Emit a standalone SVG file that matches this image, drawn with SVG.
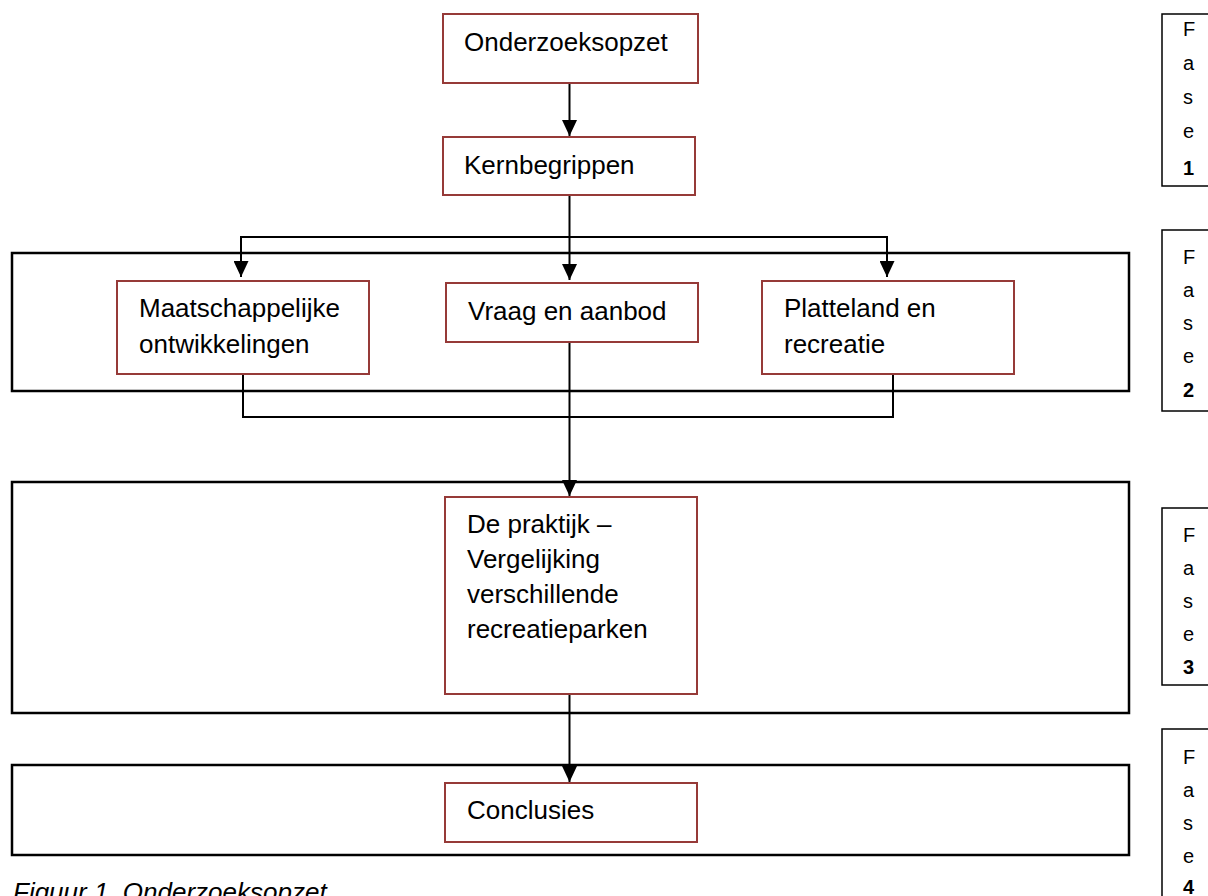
<svg xmlns="http://www.w3.org/2000/svg" width="1208" height="896" viewBox="0 0 1208 896">
  <style>
    .node { fill: #ffffff; stroke: #963a38; stroke-width: 2; }
    .phase { fill: none; stroke: #000000; stroke-width: 2.5; }
    .fase { fill: #ffffff; stroke: #000000; stroke-width: 1.5; }
    .conn { fill: none; stroke: #000000; stroke-width: 2; }
    .label { font-family: "Liberation Sans", Arial, sans-serif; font-size: 26px; fill: #000000; }
    .fl { font-family: "Liberation Sans", Arial, sans-serif; font-size: 20px; fill: #000000; }
    .fb { font-weight: bold; }
    .cap { font-family: "Liberation Sans", Arial, sans-serif; font-size: 26px; font-style: italic; fill: #000000; }
  </style>
  <defs>
    <marker id="ah" markerUnits="userSpaceOnUse" markerWidth="16" markerHeight="15" viewBox="0 0 16 15" refX="16" refY="7.5" orient="auto">
      <path d="M0,0 L16,7.5 L0,15 Z" fill="#000000"/>
    </marker>
  </defs>
  <rect width="1208" height="896" fill="#ffffff"/>

  <g id="phase-containers">
    <rect id="phase2-frame" class="phase" x="12" y="253" width="1117" height="138"/>
    <rect id="phase3-frame" class="phase" x="12" y="482" width="1117" height="231"/>
    <rect id="phase4-frame" class="phase" x="12" y="765" width="1117" height="90"/>
  </g>

  <g id="connectors">
    <path class="conn" d="M569.5,83 V136" marker-end="url(#ah)"/>
    <path class="conn" d="M569.5,195 V280" marker-end="url(#ah)"/>
    <path class="conn" d="M569.5,237 H241 V277" marker-end="url(#ah)"/>
    <path class="conn" d="M569.5,237 H887 V277" marker-end="url(#ah)"/>
    <path class="conn" d="M243,374 V417 H893 V374"/>
    <path class="conn" d="M569.5,342 V496" marker-end="url(#ah)"/>
    <path class="conn" d="M569.5,694 V782" marker-end="url(#ah)"/>
  </g>

  <g id="onderzoeksopzet">
    <rect class="node" x="443" y="14" width="255" height="69"/>
    <text class="label" x="464" y="51">Onderzoeksopzet</text>
  </g>
  <g id="kernbegrippen">
    <rect class="node" x="443" y="137" width="252" height="58"/>
    <text class="label" x="464" y="174">Kernbegrippen</text>
  </g>
  <g id="maatschappelijke">
    <rect class="node" x="117" y="281" width="252" height="93"/>
    <text class="label" x="139" y="317">Maatschappelijke</text>
    <text class="label" x="139" y="353">ontwikkelingen</text>
  </g>
  <g id="vraag-aanbod">
    <rect class="node" x="446" y="283" width="252" height="59"/>
    <text class="label" x="468" y="320">Vraag en aanbod</text>
  </g>
  <g id="platteland">
    <rect class="node" x="762" y="281" width="252" height="93"/>
    <text class="label" x="784" y="317">Platteland en</text>
    <text class="label" x="784" y="353">recreatie</text>
  </g>
  <g id="praktijk">
    <rect class="node" x="445" y="497" width="252" height="197"/>
    <text class="label" x="467" y="533">De praktijk –</text>
    <text class="label" x="467" y="568">Vergelijking</text>
    <text class="label" x="467" y="603">verschillende</text>
    <text class="label" x="467" y="638">recreatieparken</text>
  </g>
  <g id="conclusies">
    <rect class="node" x="445" y="783" width="252" height="59"/>
    <text class="label" x="467" y="819">Conclusies</text>
  </g>

  <g id="fase1">
    <rect class="fase" x="1162" y="14" width="60" height="172"/>
    <text class="fl" x="1183" y="36">F</text>
    <text class="fl" x="1183" y="70">a</text>
    <text class="fl" x="1183" y="104">s</text>
    <text class="fl" x="1183" y="138">e</text>
    <text class="fl fb" x="1183" y="175">1</text>
  </g>
  <g id="fase2">
    <rect class="fase" x="1162" y="230" width="60" height="181"/>
    <text class="fl" x="1183" y="264">F</text>
    <text class="fl" x="1183" y="297">a</text>
    <text class="fl" x="1183" y="330">s</text>
    <text class="fl" x="1183" y="363">e</text>
    <text class="fl fb" x="1183" y="397">2</text>
  </g>
  <g id="fase3">
    <rect class="fase" x="1162" y="508" width="60" height="177"/>
    <text class="fl" x="1183" y="542">F</text>
    <text class="fl" x="1183" y="575">a</text>
    <text class="fl" x="1183" y="608">s</text>
    <text class="fl" x="1183" y="641">e</text>
    <text class="fl fb" x="1183" y="674">3</text>
  </g>
  <g id="fase4">
    <rect class="fase" x="1162" y="729" width="60" height="190"/>
    <text class="fl" x="1183" y="764">F</text>
    <text class="fl" x="1183" y="797">a</text>
    <text class="fl" x="1183" y="830">s</text>
    <text class="fl" x="1183" y="863">e</text>
    <text class="fl fb" x="1183" y="894">4</text>
  </g>

  <text class="cap" x="13" y="901">Figuur 1. Onderzoeksopzet</text>
</svg>
